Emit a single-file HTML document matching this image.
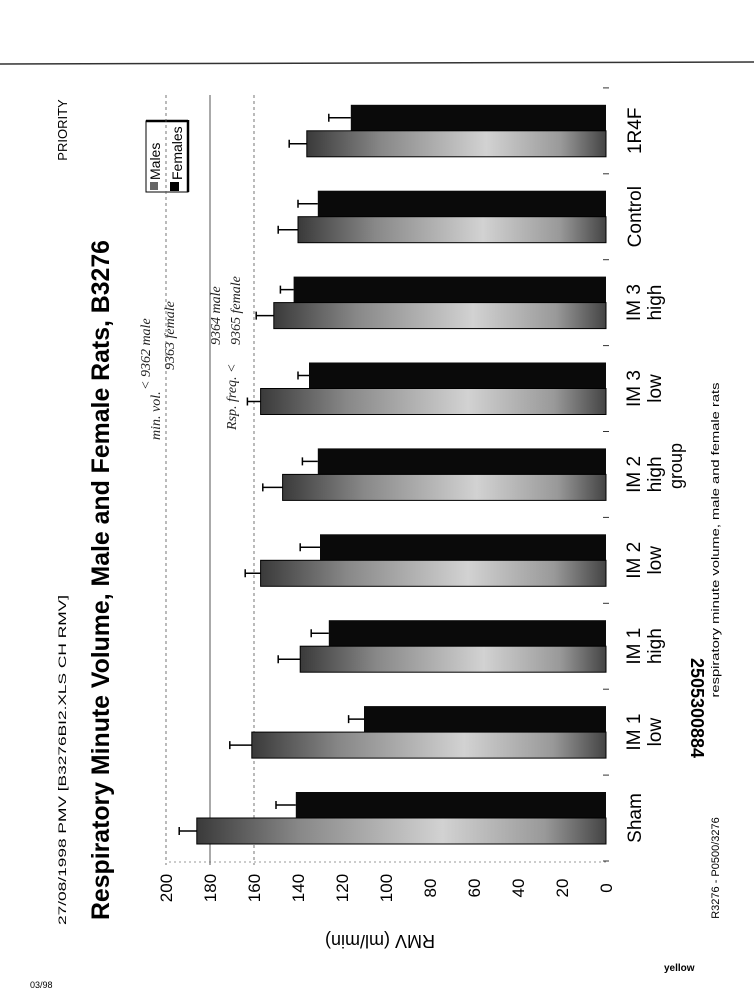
<!DOCTYPE html>
<html><head><meta charset="utf-8"><style>
html,body{margin:0;padding:0;background:#fff;}
svg{display:block;font-family:"Liberation Sans",sans-serif;}
</style></head><body>
<svg id="chart" width="754" height="1000" viewBox="0 0 754 1000" xmlns="http://www.w3.org/2000/svg">
<defs>
<linearGradient id="maleGrad" x1="0" x2="1" y1="0" y2="0">
<stop offset="0" stop-color="#3a3a3a"/><stop offset="0.25" stop-color="#888"/><stop offset="0.6" stop-color="#d2d2d2"/><stop offset="0.85" stop-color="#999"/><stop offset="1" stop-color="#444"/>
</linearGradient>
</defs>
<line x1="0" y1="64" x2="754" y2="62" stroke="#333" stroke-width="1.5"/>
<text transform="translate(67,130) rotate(-90)" text-anchor="middle" font-size="13">PRIORITY</text>
<text transform="translate(66,760) rotate(-90)" text-anchor="middle" font-size="11" textLength="330" lengthAdjust="spacingAndGlyphs">27/08/1998 PMV [B3276BI2.XLS CH RMV]</text>
<text transform="translate(109,580) rotate(-90)" text-anchor="middle" font-size="25" font-weight="bold" textLength="680" lengthAdjust="spacingAndGlyphs">Respiratory Minute Volume, Male and Female Rats, B3276</text>
<g id="annot" font-family="Liberation Serif, serif" font-style="italic" font-size="14" fill="#222">
<text transform="translate(160,440) rotate(-90)">min. vol.</text>
<text transform="translate(150,390) rotate(-90)">&lt; 9362 male</text>
<text transform="translate(174,370) rotate(-90)">9363 female</text>
<text transform="translate(236,430) rotate(-90)">Rsp. freq. &lt;</text>
<text transform="translate(220,345) rotate(-90)">9364 male</text>
<text transform="translate(240,345) rotate(-90)">9365 female</text>
</g>
<g>
<rect x="146" y="121" width="42" height="71" fill="#fff" stroke="#000" stroke-width="1"/>
<line x1="188" y1="120" x2="188" y2="192" stroke="#000" stroke-width="2.5"/>
<line x1="146" y1="121" x2="188" y2="121" stroke="#000" stroke-width="2.5"/>
<rect x="150" y="182" width="8" height="8" fill="#666"/>
<text transform="translate(160,180) rotate(-90)" font-size="14">Males</text>
<rect x="170" y="182" width="9" height="9" fill="#000"/>
<text transform="translate(182,180) rotate(-90)" font-size="14">Females</text>
</g>
<g id="plot"></g>
<text transform="translate(682,466) rotate(-90)" text-anchor="middle" font-size="18">group</text>
<text transform="translate(380,935) rotate(180)" text-anchor="middle" font-size="18">RMV (ml/min)</text>
<text transform="translate(719,540) rotate(-90)" text-anchor="middle" font-size="11" textLength="315" lengthAdjust="spacingAndGlyphs">respiratory minute volume, male and female rats</text>
<text transform="translate(691,708) rotate(90)" text-anchor="middle" font-size="18" font-weight="bold">2505300884</text>
<text transform="translate(719,868) rotate(-90)" text-anchor="middle" font-size="11">R3276 - P0500/3276</text>
<text x="30" y="988" font-size="9">03/98</text>
<text x="664" y="971" font-size="10" font-weight="bold">yellow</text>
</svg>
<script>
const categories = ["Sham","IM 1|low","IM 1|high","IM 2|low","IM 2|high","IM 3|low","IM 3|high","Control","1R4F"];
const maleValues = [186,161,139,157,147,157,151,140,136];
const maleErrors = [8,10,10,7,9,6,8,9,8];
const femaleValues = [141,110,126,130,131,135,142,131,116];
const femaleErrors = [9,7,8,9,7,5,6,9,10];
const tickValues = [0,20,40,60,80,100,120,140,160,180,200];

const NS = "http://www.w3.org/2000/svg";
const plot = document.getElementById("plot");
const X0 = 606, PX = 2.2;
function xScale(v){ return X0 - v*PX; }
function yGroup(i){ return 818 - i*85.9; }
const BW = 26;
function mk(tag, attrs){ const e=document.createElementNS(NS,tag); for(const k in attrs) e.setAttribute(k,attrs[k]); plot.appendChild(e); return e; }

[200,180,160].forEach((v)=>{
  const g = mk("line",{x1:xScale(v),x2:xScale(v),y1:95,y2:865,stroke:"#555","stroke-width":v===180?1:0.8,"stroke-dasharray":v===180?"none":"3,3"});
  
  
});
const ax = mk("line",{x1:xScale(0),x2:xScale(200),y1:862,y2:862,stroke:"#777","stroke-width":0.8,"stroke-dasharray":"2,3"});


tickValues.forEach((v)=>{
  const t = mk("text",{transform:`translate(${xScale(v)+6},888) rotate(-90)`,"text-anchor":"middle","font-size":"17"});
  t.textContent = v;
  
  
});
for(let i=0;i<=categories.length;i++){
  const s = mk("line",{x1:603,x2:609,y1:yGroup(i)+43,y2:yGroup(i)+43,stroke:"#333","stroke-width":1});
  
  
}
categories.forEach((c,i)=>{
  const yc = yGroup(i);
  const fv = femaleValues[i], fe = femaleErrors[i];
  const fb = mk("rect",{x:xScale(fv),y:yc-BW,width:X0-xScale(fv),height:BW,fill:"#0a0a0a"});
  
  
  const fel = mk("path",{d:`M${xScale(fv)} ${yc-BW/2} H${xScale(fv+fe)} M${xScale(fv+fe)} ${yc-BW/2-4} V${yc-BW/2+4}`,stroke:"#000","stroke-width":1.5,fill:"none"});
  
  
  const mv = maleValues[i], me = maleErrors[i];
  const mb = mk("rect",{x:xScale(mv),y:yc,width:X0-xScale(mv),height:BW,fill:"url(#maleGrad)",stroke:"#000","stroke-width":1});
  
  
  const mel = mk("path",{d:`M${xScale(mv)} ${yc+BW/2} H${xScale(mv+me)} M${xScale(mv+me)} ${yc+BW/2-4} V${yc+BW/2+4}`,stroke:"#000","stroke-width":1.5,fill:"none"});
  
  
  const parts = c.split("|");
  parts.forEach((p,j)=>{
    const xx = parts.length===1 ? 641 : (j===0?640:661);
    const t = mk("text",{transform:`translate(${xx},${yc}) rotate(-90)`,"text-anchor":"middle","font-size":"19"});
    t.textContent = p;
    
    
  });
});
</script>
</body></html>
